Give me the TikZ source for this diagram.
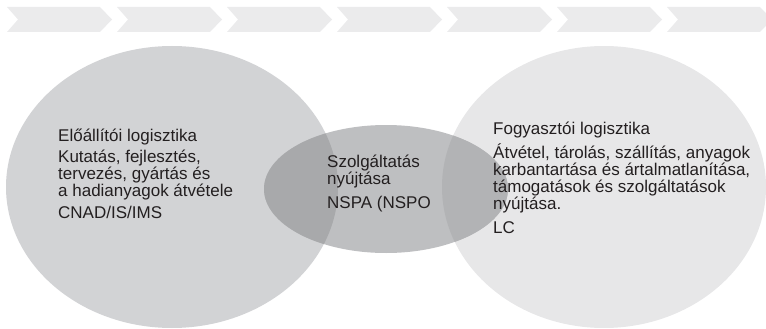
\documentclass[tikz,border=0pt]{standalone}
\usepackage{fontspec}
\setmainfont{Liberation Sans}
\definecolor{chev}{HTML}{EBEBEC}
\definecolor{leftc}{HTML}{D2D3D5}
\definecolor{rightc}{HTML}{E7E7E8}
\definecolor{midc}{HTML}{BEBFC1}
\definecolor{ovl}{HTML}{A8A9AB}
\definecolor{ovr}{HTML}{B2B3B5}
\definecolor{txt}{HTML}{231F20}
\tikzset{
  chevron/.style={fill=chev, draw=none},
  blocktext/.style={anchor=base west, inner sep=0pt, align=left, text=txt,
    font=\fontsize{17}{17}\selectfont}
}
\begin{document}
\begin{tikzpicture}[x=1pt, y=-1pt]
\useasboundingbox (0,0) rectangle (766,329);
% chevrons
\foreach \i in {0,...,6} {
  \pgfmathsetmacro{\xx}{7+110*\i}
  \fill[chevron] (\xx,7) -- ++(93,0) -- ++(12,12.5) -- ++(-12,12.5) -- ++(-93,0) -- ++(11,-12.5) -- cycle;
}
% circles
\fill[leftc] (172,187) ellipse [x radius=166, y radius=141];
\fill[rightc] (604,187) ellipse [x radius=162, y radius=141];
\fill[midc] (386,189) ellipse [x radius=122, y radius=64];
\begin{scope}
  \clip (386,189) ellipse [x radius=122, y radius=64];
  \fill[ovl] (172,187) ellipse [x radius=166, y radius=141];
  \fill[ovr] (604,187) ellipse [x radius=162, y radius=141];
\end{scope}
% texts (anchor = baseline of last line)
\node[blocktext] (prod) at (58,218) {Előállítói logisztika\\[4pt]Kutatás, fejlesztés,\\tervezés, gyártás és\\a hadianyagok átvétele\\[5pt]CNAD/IS/IMS};
\node[blocktext] (serv) at (327,208) {Szolgáltatás\\nyújtása\\[7pt]NSPA (NSPO};
\node[blocktext] (cons) at (493,233) {Fogyasztói logisztika\\[4pt]Átvétel, tárolás, szállítás, anyagok\\karbantartása és ártalmatlanítása,\\támogatások és szolgáltatások\\nyújtása.\\[7pt]LC};
\end{tikzpicture}
\end{document}
